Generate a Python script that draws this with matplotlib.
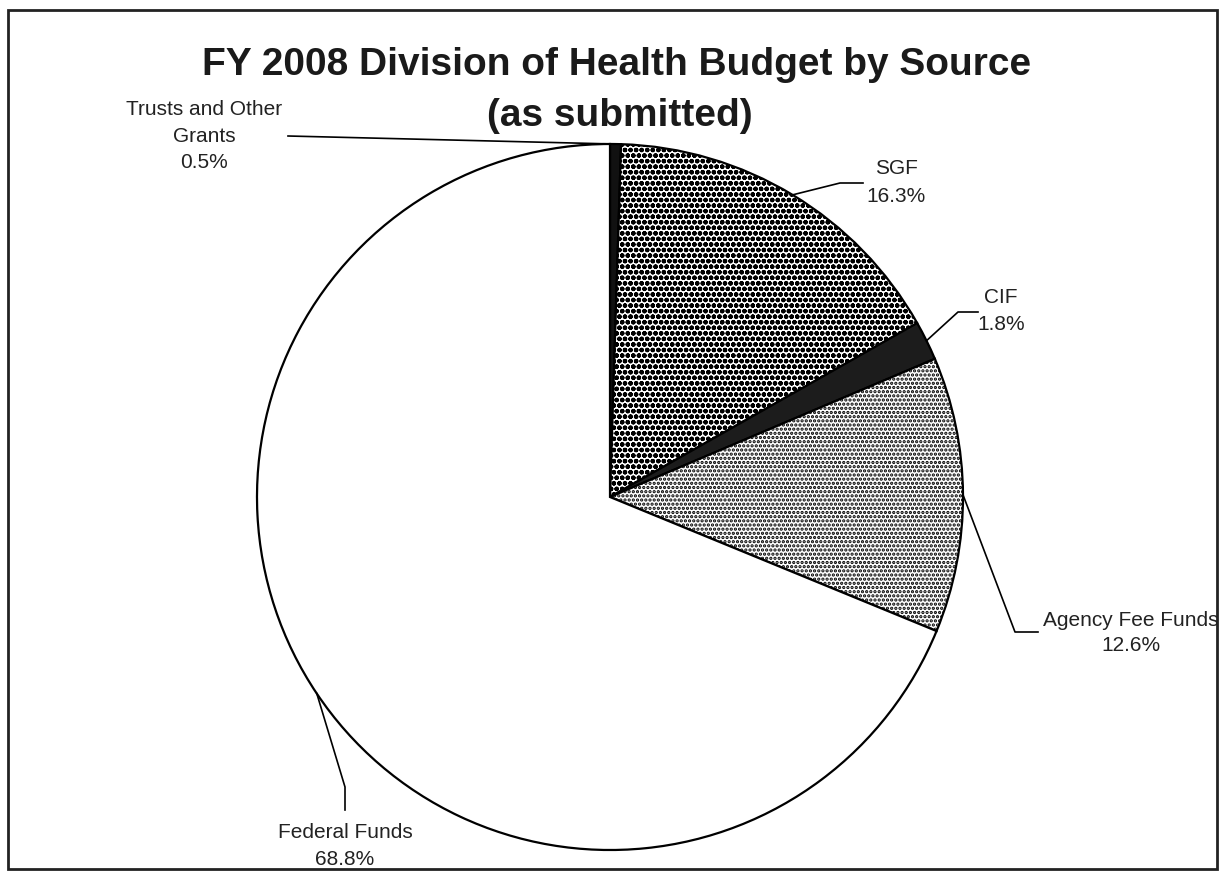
import numpy as np
import matplotlib.pyplot as plt
from matplotlib.patches import Rectangle

plt.rcParams['font.family'] = ['Liberation Sans', 'DejaVu Sans']
plt.rcParams['hatch.linewidth'] = 1.6

# data (clockwise from 12 o'clock)
sources = ['Trusts and Other\nGrants', 'SGF', 'CIF', 'Agency Fee Funds', 'Federal Funds']
shares = [0.5, 16.3, 1.8, 12.6, 68.8]
pct_labels = ['0.5%', '16.3%', '1.8%', '12.6%', '68.8%']

title_1 = 'FY 2008 Division of Health Budget by Source'
title_2 = '(as submitted)'

# look of each slice (black-and-white print)
colors = ['#111111', '#ffffff', '#1c1c1c', '#ffffff', '#ffffff']
hatches = ['', 'ooo', '', '....', '']

W, H = 1222, 872
fig = plt.figure(figsize=(W / 100, H / 100), dpi=100)
ax = fig.add_axes([0, 0, 1, 1])

# pixel coordinates, y pointing down -> start at -90 and go counterclockwise in data
cx, cy, r = 610, 497, 353
wedges, _ = ax.pie(shares, startangle=-90, counterclock=True, center=(cx, cy),
                   radius=r, colors=colors, hatch=hatches,
                   wedgeprops=dict(edgecolor='black', linewidth=1.6))
ax.set_xlim(0, W)
ax.set_ylim(H, 0)
ax.set_aspect('equal')
ax.axis('off')

# label position, leader elbow, leader end and line spacing for each slice
label_xy = [(204, 136), (896, 183), (1001, 311), (1131, 633), (345, 846)]
elbows = [None, (840, 183), (958, 312), (1015, 632), (345, 787)]
ends = [(288, 136), (863, 183), (978, 312), (1038, 632), (345, 810)]
spacing = [1.5, 1.6, 1.55, 1.45, 1.55]

for i, w in enumerate(wedges):
    mid = np.deg2rad((w.theta1 + w.theta2) / 2)
    px = cx + r * np.cos(mid)
    py = cy + r * np.sin(mid)
    pts = [(px, py)]
    if elbows[i] is not None:
        pts.append(elbows[i])
    pts.append(ends[i])
    xs, ys = zip(*pts)
    ax.plot(xs, ys, color='black', lw=1.2)
    ax.text(label_xy[i][0], label_xy[i][1], sources[i] + '\n' + pct_labels[i],
            ha='center', va='center', fontsize=15, linespacing=spacing[i],
            color='#222222')

ax.text(617, 75, title_1, ha='center', va='baseline', fontsize=28,
        fontweight='bold', color='#1a1a1a')
ax.text(620, 126, title_2, ha='center', va='baseline', fontsize=28,
        fontweight='bold', color='#1a1a1a')

# chart frame
ax.add_patch(Rectangle((8, 10), 1209, 859, fill=False, edgecolor='#222222',
                       lw=2, clip_on=False))

fig.savefig('out.png', dpi=100)
